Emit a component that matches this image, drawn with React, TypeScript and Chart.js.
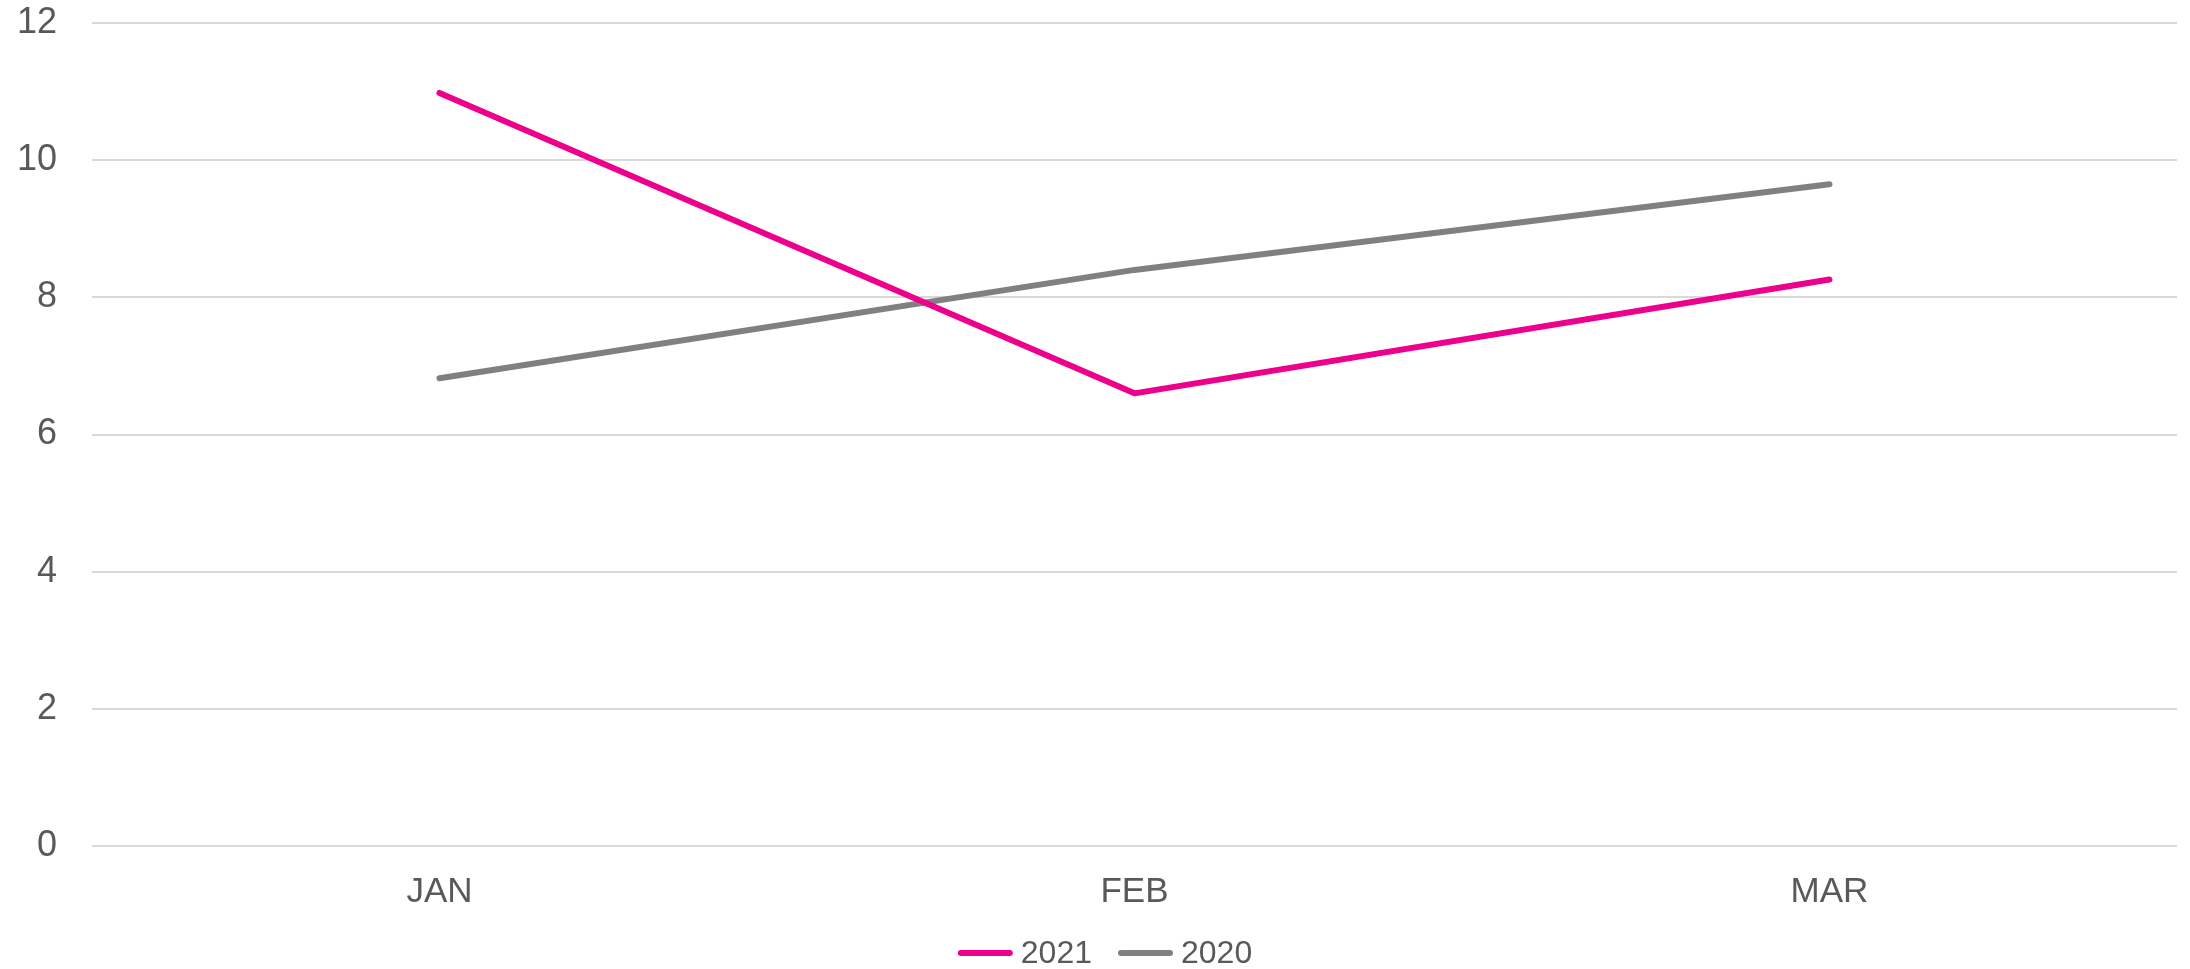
import React, { useEffect, useRef } from "react";
import { Chart, registerables } from "chart.js";

Chart.register(...registerables);

const categories = ["JAN", "FEB", "MAR"];
const series2021 = [10.98, 6.6, 8.26];
const series2020 = [6.82, 8.4, 9.65];
const yTicks = [0, 2, 4, 6, 8, 10, 12];

const PINK = "#EC008C";
const GRAY = "#808080";
const TEXT = "#595959";
const GRID = "#D9D9D9";
const FONT = "'Liberation Sans', Arial, sans-serif";

const legendPlugin = {
  id: "customLegend",
  afterDraw(chart: any) {
    const ctx = chart.ctx as CanvasRenderingContext2D;
    const datasets = chart.data.datasets;
    const lineLen = 49;
    const lineW = 6;
    const gapLineText = 8;
    const gapItems = 26;
    ctx.save();
    ctx.font = `32px ${FONT}`;
    ctx.textBaseline = "middle";
    ctx.textAlign = "left";
    const widths = datasets.map(
      (d: any) => lineW + lineLen + gapLineText + ctx.measureText(String(d.label)).width
    );
    const total =
      widths.reduce((a: number, b: number) => a + b, 0) + gapItems * (datasets.length - 1);
    const cy = 953;
    let x = 1105 - total / 2;
    datasets.forEach((d: any, i: number) => {
      ctx.strokeStyle = d.borderColor;
      ctx.lineWidth = lineW;
      ctx.lineCap = "round";
      ctx.beginPath();
      ctx.moveTo(x + lineW / 2, cy);
      ctx.lineTo(x + lineW / 2 + lineLen, cy);
      ctx.stroke();
      ctx.fillStyle = TEXT;
      ctx.fillText(String(d.label), x + lineW + lineLen + gapLineText, cy + 1);
      x += widths[i] + gapItems;
    });
    ctx.restore();
  },
};

export default function App() {
  const ref = useRef<HTMLCanvasElement | null>(null);

  useEffect(() => {
    document.body.style.margin = "0";
    const canvas = ref.current;
    if (!canvas) return;
    const chart = new Chart(canvas, {
      type: "line",
      data: {
        labels: categories,
        datasets: [
          {
            label: "2021",
            data: series2021,
            borderColor: PINK,
            backgroundColor: PINK,
            borderWidth: 6,
            pointRadius: 0,
            borderCapStyle: "round",
            borderJoinStyle: "round",
            tension: 0,
          },
          {
            label: "2020",
            data: series2020,
            borderColor: GRAY,
            backgroundColor: GRAY,
            borderWidth: 6,
            pointRadius: 0,
            borderCapStyle: "round",
            borderJoinStyle: "round",
            tension: 0,
          },
        ],
      },
      plugins: [legendPlugin],
      options: {
        animation: false,
        responsive: false,
        maintainAspectRatio: false,
        layout: { padding: { top: 23, right: 13, left: 0, bottom: 55 } },
        plugins: {
          tooltip: { enabled: false },
          legend: { display: false },
        },
        scales: {
          x: {
            offset: true,
            grid: { display: false, drawTicks: false },
            border: { display: false },
            afterFit: (scale: any) => {
              scale.height = 68;
            },
            ticks: {
              color: TEXT,
              padding: 25,
              font: { family: FONT, size: 35 },
            },
          },
          y: {
            min: 0,
            max: 12,
            afterBuildTicks: (scale: any) => {
              scale.ticks = yTicks.map((v) => ({ value: v }));
            },
            afterFit: (scale: any) => {
              scale.width = 92;
            },
            grid: {
              color: GRID,
              lineWidth: 2,
              drawTicks: true,
              tickLength: 35,
              tickColor: "rgba(0,0,0,0)",
            },
            border: { display: false },
            ticks: {
              color: TEXT,
              padding: 0,
              font: { family: FONT, size: 36 },
            },
          },
        },
      },
    });
    return () => chart.destroy();
  }, []);

  return (
    <div style={{ width: 2190, height: 969, background: "#fff" }}>
      <canvas ref={ref} width={2190} height={969} style={{ display: "block" }} />
    </div>
  );
}
